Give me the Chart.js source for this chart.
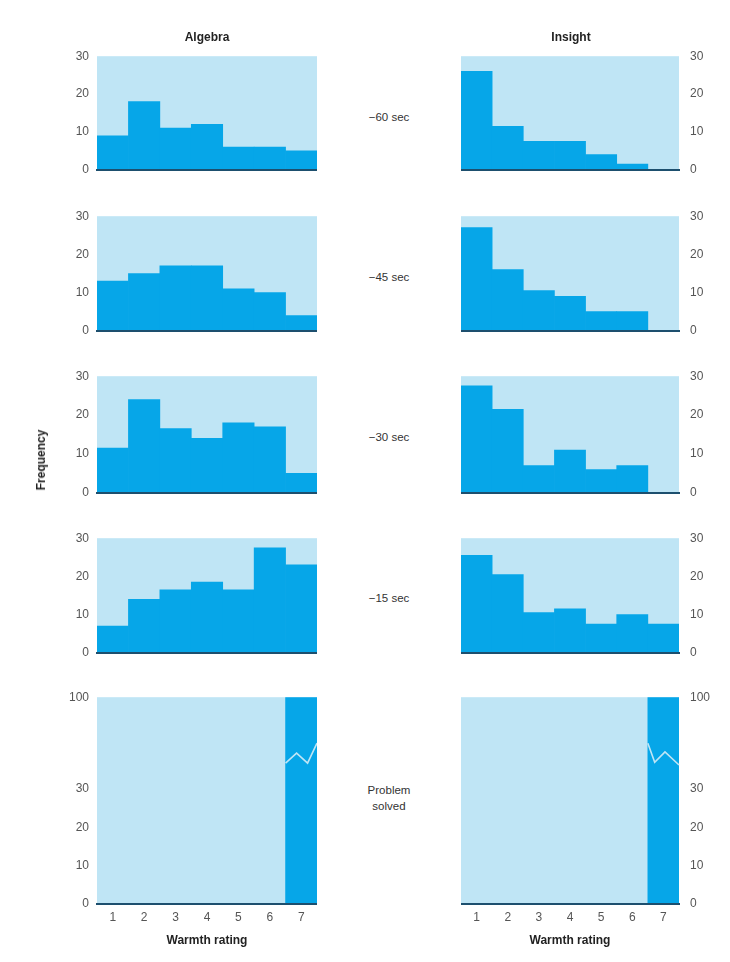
<!DOCTYPE html>
<html>
<head>
<meta charset="utf-8">
<script src="https://cdn.jsdelivr.net/npm/chart.js@4.4.1/dist/chart.umd.min.js"></script>
<style>
  html, body { margin: 0; padding: 0; background: #ffffff; }
  body { width: 730px; height: 962px; position: relative; overflow: hidden;
         font-family: "Liberation Sans", Arial, Helvetica, sans-serif; color: #333; }
  .lbl { position: absolute; white-space: nowrap; transform: translate(-50%, -50%); }
  .title { font-weight: bold; font-size: 12px; color: #222; }
  .mid { font-size: 11.5px; color: #333; text-align: center; line-height: 16px; }
  canvas { position: absolute; display: block; }
</style>
</head>
<body>
<script>
// ---------- DATA ----------
const ratings = ['1', '2', '3', '4', '5', '6', '7'];
const columnTitles = ['Algebra', 'Insight'];
const timeLabels = ['\u221260 sec', '\u221245 sec', '\u221230 sec', '\u221215 sec', 'Problem solved'];
const algebra60 = [9, 18, 11, 12, 6, 6, 5];
const insight60 = [26, 11.5, 7.5, 7.5, 4, 1.5, 0];
const algebra45 = [13, 15, 17, 17, 11, 10, 4];
const insight45 = [27, 16, 10.5, 9, 5, 5, 0];
const algebra30 = [11.5, 24, 16.5, 14, 18, 17, 5];
const insight30 = [27.5, 21.5, 7, 11, 6, 7, 0];
const algebra15 = [7, 14, 16.5, 18.5, 16.5, 27.5, 23];
const insight15 = [25.5, 20.5, 10.5, 11.5, 7.5, 10, 7.5];
const algebraSolved = [0, 0, 0, 0, 0, 0, 100];
const insightSolved = [0, 0, 0, 0, 0, 0, 100];
const freqTicks = [0, 10, 20, 30];
const solvedTicks = [0, 10, 20, 30, 100];
const yTitle = 'Frequency';
const xTitle = 'Warmth rating';

// ---------- LAYOUT / STYLE ----------
const BG = '#bfe5f5';
const BAR = '#06a6e8';
const BASE = '#1d4f6e';
const TICK = '#555555';
const FONT = '"Liberation Sans", Arial, Helvetica, sans-serif';
const leftArea = { x0: 97, x1: 317 };
const rightArea = { x0: 461, x1: 679 };
const rowAreas = [
  { top: 56, h: 114 },
  { top: 216, h: 115 },
  { top: 376, h: 117 },
  { top: 538, h: 115 },
  { top: 697, h: 207 }
];
const SOLVED_TOP = 54; // data units at the top of the broken axis
// zigzag break positions (fraction across bar, value in axis units)
const breakLeft = [[0, 36.8], [0.35, 39.4], [0.7, 36.8], [1, 42]];
const breakRight = [[0, 42], [0.22, 37], [0.55, 39.7], [1, 36.3]];

const rows = [
  [algebra60, insight60],
  [algebra45, insight45],
  [algebra30, insight30],
  [algebra15, insight15],
  [algebraSolved, insightSolved]
];

function addLabel(text, x, y, cls, extra) {
  const d = document.createElement('div');
  d.className = 'lbl ' + cls;
  d.innerHTML = text;
  d.style.left = x + 'px';
  d.style.top = y + 'px';
  if (extra) Object.assign(d.style, extra);
  document.body.appendChild(d);
}

// plot-area background
const bgPlugin = {
  id: 'bgfill',
  beforeDatasetsDraw(chart) {
    const a = chart.chartArea, ctx = chart.ctx;
    ctx.save();
    ctx.fillStyle = BG;
    ctx.fillRect(a.left, a.top, a.right - a.left, a.bottom - a.top);
    ctx.restore();
  }
};

// zigzag break mark on the off-scale bar
const breakPlugin = {
  id: 'breakmark',
  afterDatasetsDraw(chart, args, opts) {
    if (!opts || !opts.on) return;
    const meta = chart.getDatasetMeta(0);
    const bar = meta.data[meta.data.length - 1];
    const half = bar.width / 2;
    const x0 = bar.x - half, x1 = bar.x + half;
    const ys = chart.scales.y;
    const pts = opts.mirror ? breakRight : breakLeft;
    const ctx = chart.ctx;
    ctx.save();
    ctx.strokeStyle = BG;
    ctx.lineWidth = 1.6;
    ctx.beginPath();
    pts.forEach((p, i) => {
      const X = x0 + p[0] * (x1 - x0), Y = ys.getPixelForValue(p[1]);
      if (i === 0) ctx.moveTo(X, Y); else ctx.lineTo(X, Y);
    });
    ctx.stroke();
    ctx.restore();
  }
};

function makeConfig(rowIdx, colIdx, padTop, padBottom, yW, xH) {
  const isBottom = rowIdx === rowAreas.length - 1;
  const values = rows[rowIdx][colIdx];
  const tickList = isBottom ? solvedTicks : freqTicks;
  return {
    type: 'bar',
    data: {
      labels: ratings,
      datasets: [{
        data: values.slice(),
        backgroundColor: BAR,
        borderWidth: 0,
        barPercentage: 1.0,
        categoryPercentage: 1.0
      }]
    },
    options: {
      responsive: false,
      maintainAspectRatio: false,
      animation: false,
      devicePixelRatio: 1,
      layout: { padding: { top: padTop, bottom: padBottom, left: 0, right: 0 } },
      plugins: {
        legend: { display: false },
        tooltip: { enabled: false },
        breakmark: { on: isBottom, mirror: colIdx === 1 }
      },
      scales: {
        x: {
          position: 'bottom',
          grid: { display: false, drawTicks: false },
          border: { display: true, color: BASE, width: 2, z: 1 },
          ticks: { display: isBottom, color: TICK, padding: 6, font: { family: FONT, size: 12 } },
          title: { display: isBottom, text: xTitle, color: '#222', padding: { top: 4, bottom: 6 },
                   font: { family: FONT, size: 12, weight: 'bold' } },
          afterFit(s) { s.height = xH; }
        },
        y: {
          position: colIdx === 0 ? 'left' : 'right',
          min: 0,
          max: isBottom ? SOLVED_TOP : 30,
          grid: { display: false, drawTicks: false },
          border: { display: false },
          afterBuildTicks(s) {
            s.ticks = tickList.map(v => ({ value: isBottom && v > 30 ? SOLVED_TOP : v }));
          },
          ticks: {
            color: TICK,
            padding: colIdx === 0 ? 8 : 11,
            font: { family: FONT, size: 12 },
            callback(val) { return isBottom && val === SOLVED_TOP ? String(solvedTicks[solvedTicks.length - 1]) : String(val); }
          },
          afterFit(s) { s.width = yW; }
        }
      }
    },
    plugins: [bgPlugin, breakPlugin]
  };
}

function makeChart(rowIdx, colIdx) {
  const area = colIdx === 0 ? leftArea : rightArea;
  const ra = rowAreas[rowIdx];
  const isBottom = rowIdx === rowAreas.length - 1;
  const padTop = 10;
  const yW = 50;
  const xH = isBottom ? 50 : 0;
  const padBottom = isBottom ? 0 : 10;
  const cw = (area.x1 - area.x0) + yW;
  const ch = ra.h + padTop + xH + padBottom;
  const left = colIdx === 0 ? area.x0 - yW : area.x0;

  function place(cv, h, top) {
    cv.width = cw; cv.height = h;
    cv.style.width = cw + 'px'; cv.style.height = h + 'px';
    cv.style.left = left + 'px';
    cv.style.top = top + 'px';
  }

  let cv = document.createElement('canvas');
  place(cv, ch, ra.top - padTop);
  document.body.appendChild(cv);
  let chart = new Chart(cv.getContext('2d'), makeConfig(rowIdx, colIdx, padTop, padBottom, yW, xH));

  // measure any extra space the layout added and compensate so the plot area lands exactly
  const a = chart.chartArea;
  const dTop = Math.round(a.top - padTop);
  const dBot = Math.round((ch - padBottom - xH) - a.bottom);
  if (dTop !== 0 || dBot !== 0) {
    chart.destroy();
    cv.remove();
    cv = document.createElement('canvas');
    place(cv, ch + dTop + dBot, ra.top - padTop - dTop);
    document.body.appendChild(cv);
    chart = new Chart(cv.getContext('2d'), makeConfig(rowIdx, colIdx, padTop, padBottom, yW, xH));
  }
}

for (let r = 0; r < rows.length; r++) {
  makeChart(r, 0);
  makeChart(r, 1);
}

// text labels
addLabel(columnTitles[0], 207, 37, 'title');
addLabel(columnTitles[1], 571, 37, 'title');
const midY = [117, 277, 437, 598];
for (let i = 0; i < 4; i++) addLabel(timeLabels[i], 389, midY[i], 'mid');
addLabel(timeLabels[4].replace(' ', '<br>'), 389, 798, 'mid');
addLabel(yTitle, 41, 460, 'title', { transform: 'translate(-50%, -50%) rotate(-90deg)' });
</script>
</body>
</html>
